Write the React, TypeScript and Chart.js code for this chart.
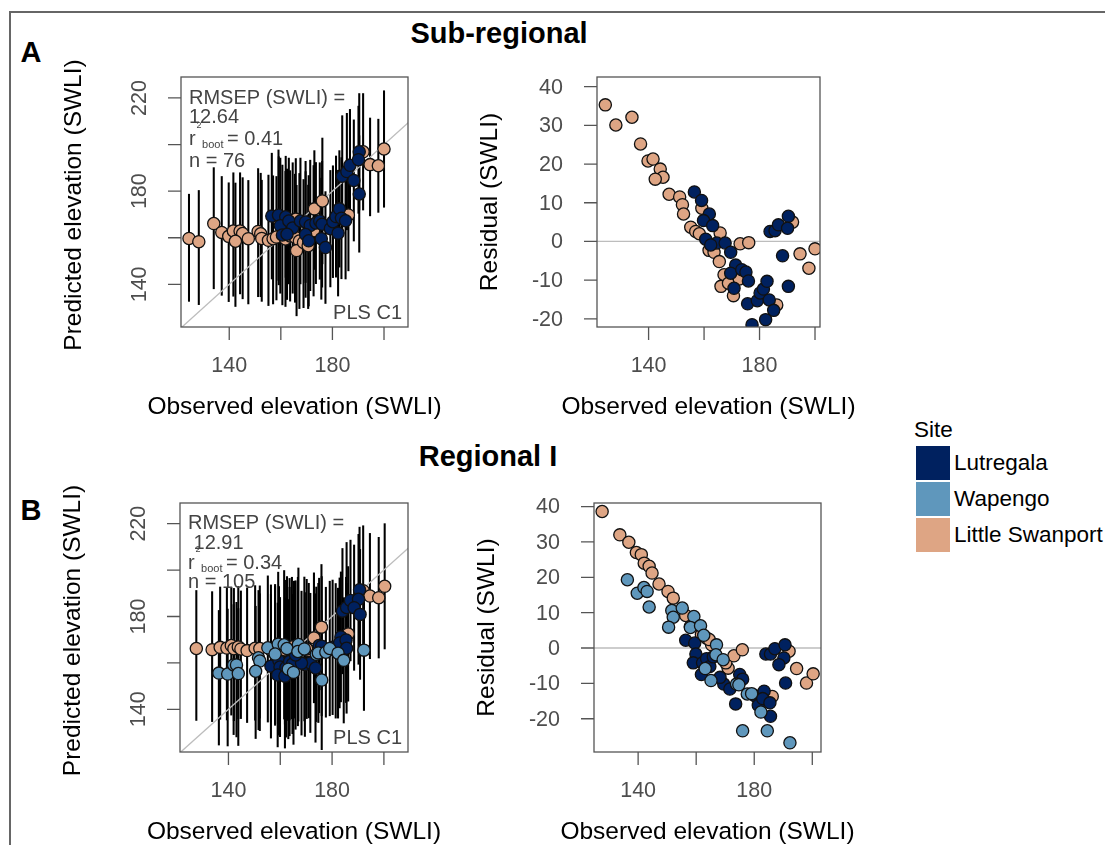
import React, { useEffect, useRef } from 'react';
import { Chart, registerables } from 'chart.js';

Chart.register(...registerables);

const FONT = '"Liberation Sans", Arial, Helvetica, sans-serif';
const PAGE_W = 1105;
const PAGE_H = 845;

// ---------------- A: Sub-regional ----------------
// Little Swanport
const obsA_LS = [124.4, 128.2, 134.0, 137.1, 139.8, 141.6, 144.2, 145.2, 142.4, 147.4, 151.2, 152.2, 152.6, 155.2, 157.0, 158.3, 159.2, 161.8, 163.6, 165.5, 165.8, 167.2, 166.1, 168.8, 170.6, 172.7, 173.0, 176.1, 186.2, 191.9, 194.6, 197.8, 200.0];
const predA_LS = [159.7, 158.3, 166.1, 162.3, 160.6, 162.9, 162.9, 161.8, 158.5, 159.6, 162.7, 161.7, 159.7, 158.9, 159.6, 160.3, 167.8, 159.5, 160.8, 160.3, 168.0, 158.6, 154.5, 158.0, 156.6, 163.0, 172.4, 175.8, 169.8, 196.9, 191.4, 190.9, 198.1];
const resA_LS = [35.3, 30.1, 32.1, 25.2, 20.8, 21.3, 18.7, 16.6, 16.1, 12.2, 11.5, 9.5, 7.1, 3.7, 2.6, 2.0, 8.6, -2.3, -2.8, -5.2, 2.2, -8.6, -11.6, -10.8, -14.0, -9.7, -0.6, -0.3, -16.4, 5.0, -3.2, -6.9, -1.9];
const upA_LS = [19, 22, 24, 24, 23, 25, 25, 24, 25, 25, 27, 26, 25, 28, 27, 26, 27, 29, 28, 27, 26, 29, 28, 27, 26, 28, 25, 27, 24, 25, 20, 20, 25];
const downA_LS = [27, 27, 28, 27, 28, 28, 27, 28, 28, 28, 28, 27, 27, 28, 28, 27, 28, 29, 28, 28, 27, 29, 28, 28, 27, 28, 26, 27, 24, 25, 22, 20, 25];
// Lutregala
const obsA_LU = [156.5, 159.1, 161.9, 159.8, 163.1, 160.6, 164.6, 167.6, 169.6, 171.4, 169.6, 173.6, 175.1, 176.0, 170.8, 175.7, 179.2, 180.2, 181.4, 182.7, 183.5, 185.1, 182.2, 177.3, 183.8, 185.6, 186.8, 190.4, 190.1, 188.3, 190.4, 162.4];
const predA_LU = [169.3, 169.7, 169.0, 165.2, 167.2, 161.2, 164.2, 167.2, 166.8, 165.3, 161.4, 166.3, 167.2, 165.8, 158.7, 159.6, 163.9, 166.9, 169.1, 172.4, 168.4, 167.3, 162.0, 155.8, 186.4, 188.4, 191.1, 196.9, 193.5, 184.6, 178.8, 161.5];
const resA_LU = [12.8, 10.6, 7.1, 5.4, 4.1, 0.6, -0.4, -0.4, -2.8, -6.1, -8.2, -7.3, -7.9, -10.2, -12.1, -16.1, -15.3, -13.3, -12.3, -10.3, -15.1, -17.8, -20.2, -21.5, 2.6, 2.8, 4.3, 6.5, 3.4, -3.7, -11.6, -0.9];
const upA_LU = [27, 28, 26, 29, 27, 30, 28, 27, 26, 28, 27, 26, 25, 27, 28, 26, 25, 24, 26, 25, 26, 25, 27, 24, 26, 25, 24, 25, 23, 26, 25, 28];
const downA_LU = [27, 28, 26, 29, 27, 30, 28, 27, 26, 28, 27, 26, 25, 27, 28, 26, 25, 24, 26, 25, 26, 25, 27, 24, 26, 25, 24, 25, 23, 26, 25, 28];

// ---------------- B: Regional I ----------------
// Little Swanport
const obsB_LS = [127.6, 133.7, 136.8, 139.4, 141.1, 142.1, 143.8, 144.8, 147.2, 150.3, 152.1, 156.4, 158.0, 161.8, 163.6, 165.3, 171.0, 170.2, 173.0, 175.9, 192.0, 194.6, 198.0, 200.3, 186.2, 164.5];
const predB_LS = [166.2, 165.7, 166.7, 166.4, 167.5, 166.1, 166.9, 166.0, 165.3, 166.3, 166.2, 165.6, 164.1, 165.6, 166.4, 166.2, 165.3, 166.0, 170.8, 175.4, 191.1, 188.8, 188.1, 193.0, 172.5, 166.9];
const resB_LS = [38.6, 32.0, 29.9, 27.0, 26.4, 24.0, 23.1, 21.2, 18.1, 16.0, 14.1, 9.2, 6.1, 3.8, 2.8, 0.9, -5.7, -4.2, -2.2, -0.5, -0.9, -5.8, -9.9, -7.3, -13.7, 2.4];
const upB_LS = [25, 25, 26, 26, 25, 26, 26, 25, 27, 27, 27, 28, 29, 30, 30, 29, 29, 30, 28, 27, 28, 27, 26, 27, 29, 30];
const downB_LS = [31, 31, 31, 31, 30, 31, 31, 30, 31, 31, 30, 31, 31, 32, 31, 30, 29, 30, 28, 27, 28, 27, 26, 27, 29, 31];
// Wapengo
const obsB_WA = [136.3, 139.7, 142.0, 143.1, 143.8, 151.6, 152.1, 150.5, 155.2, 159.2, 158.0, 161.5, 162.6, 167.0, 166.8, 169.3, 163.1, 165.1, 173.9, 174.7, 177.6, 179.1, 182.3, 176.0, 184.5, 192.3];
const predB_WA = [155.6, 155.2, 159.1, 159.1, 155.4, 162.2, 160.8, 156.4, 166.5, 168.1, 163.8, 167.8, 166.2, 167.9, 164.9, 166.0, 157.3, 155.9, 163.7, 164.3, 164.6, 166.2, 164.2, 152.6, 161.1, 165.5];
const resB_WA = [19.3, 15.5, 17.1, 16.0, 11.6, 10.6, 8.7, 5.9, 11.3, 8.9, 5.8, 6.3, 3.6, 0.9, -1.9, -3.3, -5.8, -9.2, -10.2, -10.4, -13.0, -12.9, -18.1, -23.4, -23.4, -26.8];
const upB_WA = [27, 28, 26, 27, 28, 29, 29, 28, 31, 31, 30, 32, 31, 33, 32, 31, 30, 31, 29, 30, 28, 29, 28, 30, 27, 26];
const downB_WA = [31, 31, 30, 31, 31, 31, 30, 29, 32, 31, 30, 32, 31, 33, 32, 31, 30, 31, 29, 30, 28, 29, 28, 30, 27, 26];
// Lutregala
const obsB_LU = [156.4, 159.5, 159.9, 159.0, 162.2, 163.6, 161.8, 164.7, 169.5, 171.6, 173.6, 175.0, 176.0, 180.2, 183.4, 181.4, 182.9, 185.4, 185.6, 184.0, 185.6, 187.1, 190.6, 190.2, 188.5, 190.8, 168.2, 165.9];
const predB_LU = [158.6, 160.9, 158.2, 154.8, 158.0, 160.6, 154.3, 159.5, 159.3, 160.0, 157.8, 167.5, 167.2, 166.7, 171.2, 165.2, 168.6, 169.9, 166.3, 182.3, 183.9, 186.9, 191.5, 187.4, 183.8, 180.9, 159.9, 163.4];
const resB_LU = [2.2, 1.4, -1.7, -4.2, -4.2, -3.0, -7.5, -5.2, -10.2, -11.6, -15.8, -7.5, -8.8, -13.5, -12.2, -16.2, -14.3, -15.5, -19.3, -1.7, -1.7, -0.2, 0.9, -2.8, -4.7, -9.9, -8.3, -2.5];
const upB_LU = [31, 32, 30, 31, 30, 32, 31, 30, 31, 30, 32, 29, 30, 29, 28, 29, 28, 27, 28, 27, 28, 26, 27, 28, 27, 28, 31, 32];
const downB_LU = [31, 32, 30, 31, 30, 32, 31, 30, 31, 30, 32, 29, 30, 29, 28, 29, 28, 27, 28, 27, 28, 26, 27, 28, 27, 28, 31, 32];

// ---------------- legend / ticks / labels ----------------
const siteNames = ['Lutregala', 'Wapengo', 'Little Swanport'];
const siteColors = ['#00215f', '#5f97bc', '#dea584'];

const predXTicks = [140, 160, 180, 200];
const predXLabels = ['140', '', '180', ''];
const predYTicks = [140, 160, 180, 200, 220];
const predYLabels = ['140', '', '180', '', '220'];
const resXTicks = [140, 160, 180, 200];
const resXLabels = ['140', '', '180', ''];
const resYTicks = [-20, -10, 0, 10, 20, 30, 40];
const resYLabels = ['-20', '-10', '0', '10', '20', '30', '40'];

const oneToOneLine = [100, 250];
const zeroLineX = [100, 250];
const zeroLineY = [0, 0];

const statsA = { rmsep: '12.64', r2: '0.41', n: '76' };
const statsB = { rmsep: ' 12.91', r2: '0.34', n: '105' };

// axis ranges
const rangeA_predX = [121.3, 209.3];
const rangeA_predY = [121.7, 229.0];
const rangeA_resX = [121.4, 201.8];
const rangeA_resY = [-22.1, 42.5];
const rangeB_predX = [121.3, 209.3];
const rangeB_predY = [121.6, 228.9];
const rangeB_resX = [124.8, 203.0];
const rangeB_resY = [-29.4, 41.0];

// plot boxes on the page (layout only)
const boxAPred = { l: 181, t: 77, r: 408, b: 327 };
const boxARes = { l: 597, t: 77, r: 820, b: 327 };
const boxBPred = { l: 180, t: 503, r: 408, b: 752 };
const boxBRes = { l: 594, t: 503, r: 821, b: 752 };

const TICK = 13;

function scatterSet(label: string, color: string, xs: number[], ys: number[]) {
  return {
    type: 'scatter',
    label,
    data: xs.map((x, i) => ({ x, y: ys[i] })),
    backgroundColor: color,
    borderColor: '#111111',
    borderWidth: 1.3,
    pointRadius: 6.1,
    pointHoverRadius: 6.1,
    clip: 0,
  };
}

function errorSet(groups: any[]) {
  const data: any[] = [];
  groups.forEach(([xs, ys, up, down]: any) => {
    xs.forEach((x: number, i: number) => data.push({ x, y: [ys[i] - down[i], ys[i] + up[i]] }));
  });
  return {
    type: 'bar',
    label: 'interval',
    data,
    backgroundColor: '#000000',
    borderWidth: 0,
    barThickness: 1.4,
    grouped: false,
    clip: 0,
  };
}

function refLine(xs: number[], ys: number[]) {
  return {
    type: 'line',
    label: 'ref',
    data: xs.map((x, i) => ({ x, y: ys[i] })),
    borderColor: '#bdbdbd',
    borderWidth: 1.3,
    pointRadius: 0,
    showLine: true,
    fill: false,
    clip: 0,
  };
}

function decorPlugin(id: string, d: any) {
  return {
    id,
    afterDraw(chart: any) {
      const { ctx, chartArea: a, scales } = chart;
      const xs = scales.x;
      const ys = scales.y;
      ctx.save();
      // box
      ctx.strokeStyle = '#555555';
      ctx.lineWidth = 1.3;
      ctx.strokeRect(a.left, a.top, a.right - a.left, a.bottom - a.top);
      // ticks
      ctx.beginPath();
      d.xTicks.forEach((v: number) => {
        const p = xs.getPixelForValue(v);
        ctx.moveTo(p, a.bottom);
        ctx.lineTo(p, a.bottom + TICK);
      });
      d.yTicks.forEach((v: number) => {
        const p = ys.getPixelForValue(v);
        ctx.moveTo(a.left - TICK, p);
        ctx.lineTo(a.left, p);
      });
      ctx.stroke();
      // tick labels
      ctx.fillStyle = '#4d4d4d';
      ctx.font = `21.5px ${FONT}`;
      ctx.textAlign = 'center';
      ctx.textBaseline = 'middle';
      d.xTicks.forEach((v: number, i: number) => {
        if (d.xLabels[i]) ctx.fillText(d.xLabels[i], xs.getPixelForValue(v), a.bottom + 39);
      });
      d.yTicks.forEach((v: number, i: number) => {
        const lab = d.yLabels[i];
        if (!lab) return;
        const p = ys.getPixelForValue(v);
        if (d.rotateY) {
          ctx.save();
          ctx.translate(a.left - 41, p);
          ctx.rotate(-Math.PI / 2);
          ctx.textAlign = 'center';
          ctx.fillText(lab, 0, 0);
          ctx.restore();
        } else {
          ctx.textAlign = 'right';
          ctx.fillText(lab, a.left - 34, p + 1);
        }
      });
      // axis titles
      ctx.fillStyle = '#000000';
      ctx.font = `24.5px ${FONT}`;
      ctx.textAlign = 'center';
      ctx.textBaseline = 'middle';
      ctx.fillText(d.xTitle, (a.left + a.right) / 2, a.bottom + 80);
      ctx.save();
      ctx.translate(a.left - 107, (a.top + a.bottom) / 2 + (d.yTitleShift || 0));
      ctx.rotate(-Math.PI / 2);
      ctx.fillText(d.yTitle, 0, 0);
      ctx.restore();
      // statistics block
      if (d.stats) {
        const s = d.stats;
        const x0 = a.left + 8;
        ctx.fillStyle = '#444444';
        ctx.textAlign = 'left';
        ctx.textBaseline = 'alphabetic';
        ctx.font = `20px ${FONT}`;
        ctx.fillText('RMSEP (SWLI) =', x0, a.top + s.base[0]);
        ctx.fillText(s.rmsep, x0, a.top + s.base[1]);
        const y3 = a.top + s.base[2];
        ctx.fillText('r', x0, y3);
        let x = x0 + ctx.measureText('r').width + 0.8;
        ctx.font = `9px ${FONT}`;
        ctx.fillText('2', x, y3 - 17);
        x += ctx.measureText('2').width + 0.6;
        ctx.font = `11px ${FONT}`;
        ctx.fillText('boot', x, y3 + 3);
        x += ctx.measureText('boot').width + 3.5;
        ctx.font = `20px ${FONT}`;
        ctx.fillText('= ' + s.r2, x, y3);
        ctx.fillText('n = ' + s.n, x0, a.top + s.base[3]);
        ctx.textAlign = 'right';
        ctx.fillText('PLS C1', a.right - 6, a.bottom - 8);
      }
      ctx.restore();
    },
  };
}

function makeConfig(id: string, box: any, xr: number[], yr: number[], datasets: any[], decor: any) {
  return {
    type: 'scatter',
    data: { datasets },
    options: {
      responsive: false,
      animation: false,
      events: [],
      layout: {
        autoPadding: false,
        padding: { left: box.l, top: box.t, right: PAGE_W - box.r, bottom: PAGE_H - box.b },
      },
      plugins: { legend: { display: false }, tooltip: { enabled: false } },
      scales: {
        x: { type: 'linear', display: false, min: xr[0], max: xr[1], offset: false },
        y: { type: 'linear', display: false, min: yr[0], max: yr[1] },
      },
    },
    plugins: [decorPlugin(id, decor)],
  } as any;
}

export default function App() {
  const c1 = useRef<HTMLCanvasElement>(null);
  const c2 = useRef<HTMLCanvasElement>(null);
  const c3 = useRef<HTMLCanvasElement>(null);
  const c4 = useRef<HTMLCanvasElement>(null);

  useEffect(() => {
    const predDecor = (stats: any, base: number[]) => ({
      xTicks: predXTicks, xLabels: predXLabels, yTicks: predYTicks, yLabels: predYLabels,
      rotateY: true, xTitle: 'Observed elevation (SWLI)', yTitle: 'Predicted elevation (SWLI)',
      stats: { ...stats, base }, yTitleShift: 3,
    });
    const resDecor = {
      xTicks: resXTicks, xLabels: resXLabels, yTicks: resYTicks, yLabels: resYLabels,
      rotateY: false, xTitle: 'Observed elevation (SWLI)', yTitle: 'Residual (SWLI)',
    };

    const charts = [
      new Chart(c1.current as any, makeConfig('decorAPred', boxAPred, rangeA_predX, rangeA_predY, [
        scatterSet(siteNames[0], siteColors[0], obsA_LU, predA_LU),
        scatterSet(siteNames[2], siteColors[2], obsA_LS, predA_LS),
        refLine(oneToOneLine, oneToOneLine),
        errorSet([[obsA_LU, predA_LU, upA_LU, downA_LU], [obsA_LS, predA_LS, upA_LS, downA_LS]]),
      ], predDecor(statsA, [27, 46, 68, 89.5]))),
      new Chart(c2.current as any, makeConfig('decorARes', boxARes, rangeA_resX, rangeA_resY, [
        scatterSet(siteNames[0], siteColors[0], obsA_LU, resA_LU),
        scatterSet(siteNames[2], siteColors[2], obsA_LS, resA_LS),
        refLine(zeroLineX, zeroLineY),
      ], resDecor)),
      new Chart(c3.current as any, makeConfig('decorBPred', boxBPred, rangeB_predX, rangeB_predY, [
        scatterSet(siteNames[1], siteColors[1], obsB_WA, predB_WA),
        scatterSet(siteNames[0], siteColors[0], obsB_LU, predB_LU),
        scatterSet(siteNames[2], siteColors[2], obsB_LS, predB_LS),
        refLine(oneToOneLine, oneToOneLine),
        errorSet([[obsB_LU, predB_LU, upB_LU, downB_LU], [obsB_WA, predB_WA, upB_WA, downB_WA], [obsB_LS, predB_LS, upB_LS, downB_LS]]),
      ], predDecor(statsB, [25.5, 46, 65.5, 84.5]))),
      new Chart(c4.current as any, makeConfig('decorBRes', boxBRes, rangeB_resX, rangeB_resY, [
        scatterSet(siteNames[1], siteColors[1], obsB_WA, resB_WA),
        scatterSet(siteNames[0], siteColors[0], obsB_LU, resB_LU),
        scatterSet(siteNames[2], siteColors[2], obsB_LS, resB_LS),
        refLine(zeroLineX, zeroLineY),
      ], resDecor)),
    ];
    return () => charts.forEach((c) => c.destroy());
  }, []);

  const canvasStyle: any = { position: 'absolute', left: 0, top: 0 };
  const centered = (x: number, y: number, size: number, bold: boolean, text: string) => (
    <div style={{
      position: 'absolute', left: x, top: y, transform: 'translate(-50%, -50%)',
      fontSize: size, lineHeight: 1, fontWeight: bold ? 700 : 400, whiteSpace: 'nowrap', color: '#000',
    }}>{text}</div>
  );

  return (
    <div style={{ position: 'absolute', left: 0, top: 0, width: PAGE_W, height: PAGE_H, background: '#fff', fontFamily: FONT, overflow: 'hidden' }}>
      <div style={{ position: 'absolute', left: 9, top: 11, width: PAGE_W - 9, height: 2, background: '#666' }} />
      <div style={{ position: 'absolute', left: 9, top: 11, width: 2, height: PAGE_H - 11, background: '#666' }} />
      {centered(499, 33, 29, true, 'Sub-regional')}
      {centered(31, 52, 29, true, 'A')}
      {centered(488, 456, 29, true, 'Regional I')}
      {centered(31, 510, 29, true, 'B')}
      <div style={{ position: 'absolute', left: 914, top: 430, transform: 'translateY(-50%)', fontSize: 22.5, lineHeight: 1, color: '#000' }}>Site</div>
      {siteNames.map((name, i) => (
        <React.Fragment key={name}>
          <div style={{ position: 'absolute', left: 916, top: 446 + i * 36, width: 34, height: 34, background: siteColors[i] }} />
          <div style={{ position: 'absolute', left: 954, top: 462.5 + i * 36, transform: 'translateY(-50%)', fontSize: 22.5, lineHeight: 1, color: '#000', whiteSpace: 'nowrap' }}>{name}</div>
        </React.Fragment>
      ))}
      <canvas ref={c1} width={PAGE_W} height={PAGE_H} style={canvasStyle} />
      <canvas ref={c2} width={PAGE_W} height={PAGE_H} style={canvasStyle} />
      <canvas ref={c3} width={PAGE_W} height={PAGE_H} style={canvasStyle} />
      <canvas ref={c4} width={PAGE_W} height={PAGE_H} style={canvasStyle} />
    </div>
  );
}
